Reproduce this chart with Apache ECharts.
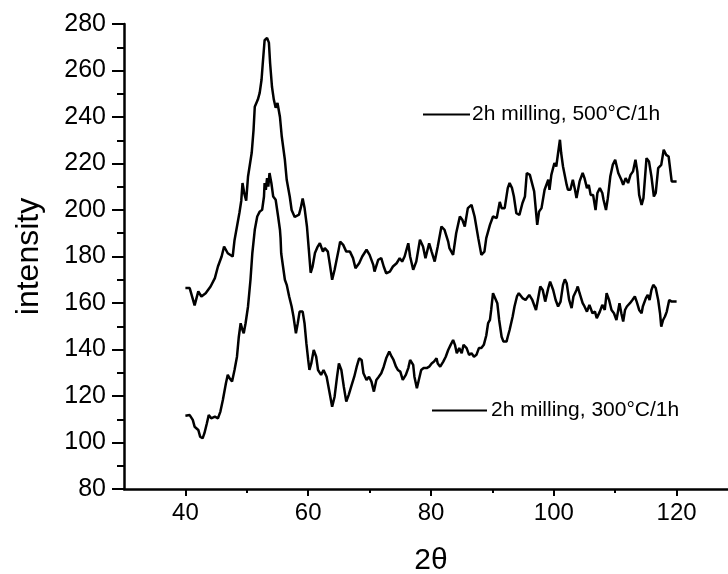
<!DOCTYPE html>
<html>
<head>
<meta charset="utf-8">
<script src="https://cdn.jsdelivr.net/npm/echarts@6/dist/echarts.min.js"></script>
<style>html,body{margin:0;padding:0;background:#fff}#c{width:728px;height:574px}</style>
</head>
<body>
<div id="c"></div>
<script>
var seriesNames = ['2h milling, 500°C/1h', '2h milling, 300°C/1h'];
var xMajorTicks = [40, 60, 80, 100, 120];
var xMinorTicks = [50, 70, 90, 110, 130];

var x500 = [40,40.7,41.5,42.1,42.6,43.3,44.1,44.8,45.3,45.9,46.3,46.9,47.7,48.0,48.8,49.1,49.3,49.6,49.9,50.2,50.5,50.8,51.1,51.3,51.8,52.1,52.4,52.6,52.9,53.3,53.6,53.8,54.1,54.4,54.7,55.0,55.4,55.7,56.2,56.5,57.0,57.3,57.8,58.1,58.5,58.8,59.1,59.4,59.8,60.1,60.4,60.7,61.1,61.5,61.9,62.4,62.7,63.2,63.5,63.9,64.3,64.9,65.2,65.7,66.2,66.8,67.3,67.7,68.3,68.8,69.5,70.0,70.6,70.8,71.4,71.9,72.3,72.7,73.3,73.8,74.4,74.9,75.3,75.7,76.3,76.6,77.1,77.6,78.2,78.7,79.1,79.7,80.1,80.6,81.1,81.7,82.2,82.8,83.0,83.6,84.1,84.7,85.1,85.5,86.0,86.6,87.1,87.7,88.2,88.7,89.0,89.6,90.1,90.7,91.2,91.5,92.0,92.5,92.8,93.2,93.5,93.9,94.4,94.9,95.3,95.6,96.1,96.4,96.8,97.3,97.6,98.0,98.5,99.1,99.3,99.6,100.1,100.4,100.7,101.0,101.2,101.5,102.1,102.3,102.7,103.1,103.4,103.7,103.9,104.2,104.7,105.0,105.4,105.7,106.0,106.4,106.8,107.1,107.5,107.9,108.1,108.5,108.8,109.2,109.6,110.0,110.5,111.0,111.3,111.7,112.1,112.5,112.9,113.3,113.6,113.9,114.3,114.6,115.1,115.5,115.9,116.3,116.6,117.0,117.5,117.9,118.3,118.7,119.2,120];
var y500 = [166.4,166.4,159,165,162.8,164.2,167.1,170.7,175.7,180,184.3,181.4,180,187,198.8,204,211.6,207,204,214.4,214,224.6,234.5,244.4,247.5,250.4,256,263,273,274,272,263,253,247.5,244,246,240,231.5,221.6,213,205.7,200,197,197,198,201,205,201,192.8,183,173,175.5,181.5,184,185.7,182.1,183.6,182.1,177.1,170,174.3,182.1,186.4,185,182.1,182.1,179.3,175,177.1,180,182.9,180.7,176.4,173.5,178.6,179.3,175.7,172.8,173.5,175.7,177.1,179.3,177.8,180,185.7,180,174.3,177.8,187.2,184.3,179.3,185.7,182.1,177.8,184.3,192.9,191.5,186.4,183.6,180.7,190,197.2,195.8,192.9,200.8,202.2,197.2,187.9,180.7,182.1,187.9,193.6,197.2,196.5,203.5,200.8,200.8,209.4,211.6,209.4,205.8,198.6,197.9,203,205.8,215.9,215.1,214.4,208,193.6,199.3,200.8,208.7,213,208.7,215.1,220.2,218.7,224.5,230.2,224.5,218.7,210.8,208.7,208.7,213,209.4,205.1,205.8,212.3,215.9,213.7,209.4,210.8,206.5,206.5,200,207.3,209.4,207.3,204.4,200,205.1,214.4,219.4,221.6,215.9,213,210.8,213.7,211.6,215.1,216.6,221.6,216.6,206.5,202.2,205.1,222.3,220.9,214.4,205.8,207.3,218,219.4,225.9,223.7,223,212.3,212.3];

var x300 = [40,40.7,41.2,41.5,42.1,42.4,42.8,43.1,43.5,43.8,44.2,44.8,45.3,45.7,46.1,46.6,46.9,47.2,47.6,48.0,48.4,48.7,49.0,49.3,49.5,49.8,50.2,50.6,50.9,51.3,51.7,52.1,52.5,52.8,52.9,53.1,53.3,53.5,53.7,54.0,54.3,54.7,55.1,55.4,55.5,55.6,55.9,56.2,56.5,56.9,57.3,57.6,58.0,58.3,58.6,59.1,59.4,59.7,60.0,60.2,60.5,60.9,61.3,61.6,62.1,62.5,63.0,63.4,63.9,64.3,64.7,65.0,65.4,65.8,66.2,66.6,67.0,67.5,67.9,68.3,68.7,69.0,69.5,69.9,70.3,70.7,71.1,71.5,71.9,72.3,72.7,73.2,73.6,73.9,74.3,74.6,75.0,75.4,75.9,76.3,76.6,77.1,77.3,77.7,78.0,78.4,78.8,79.3,79.7,80.1,80.5,80.9,81.1,81.5,82.0,82.4,82.8,83.2,83.6,83.9,84.2,84.6,85.0,85.3,85.8,86.2,86.6,87.0,87.4,87.8,88.2,88.6,89.0,89.3,89.6,89.8,90.1,90.4,90.8,91.1,91.5,91.8,92.3,92.5,92.8,93.3,93.6,94.0,94.3,94.9,95.4,96.0,96.5,97.1,97.4,97.8,98.2,98.6,99.1,99.4,99.9,100.3,100.7,101.1,101.5,101.8,102.1,102.5,102.9,103.2,103.7,103.9,104.2,104.7,105.0,105.4,105.8,106.3,106.7,107.0,107.5,107.9,108.3,108.6,109.0,109.4,109.8,110.2,110.5,110.7,111.0,111.3,111.6,111.9,112.4,112.8,113.2,113.5,113.9,114.3,114.5,115.0,115.3,115.6,115.9,116.2,116.6,117.0,117.3,117.5,117.8,118.1,118.4,118.8,119.2,120];
var y300 = [111.5,111.8,109.7,106.8,105.4,102.5,101.8,104,108.3,111.8,110.4,111.1,110.4,113.3,118.3,125.5,129.1,127.6,126.2,131.2,136.9,145.5,151.3,148.4,147,151.3,158.5,170,181.4,191.5,197.2,199.3,200.1,205.8,211.6,208.7,213.7,210.1,215.9,211.6,205.8,204.4,197.2,191.5,187.9,181.4,175.7,170,167.8,162.8,158.5,154.2,147,151.3,156.3,156.3,151.3,142.7,135.5,131.2,134,139.8,136.9,131.2,129.1,131.2,128.3,122.6,115.4,119.7,128.3,134,131.2,124,117.6,120.5,124,128.3,132.6,136.2,135.5,129.8,126.9,128.3,126.2,121.9,126.9,128.3,129.8,132.6,136.2,139.1,136.9,135.5,132.6,131.2,130.5,126.9,129.1,132,135.5,133.4,128.3,123.3,123.3,131.2,132,132,132.6,134,134.8,136.2,134,132.6,134.8,136.9,139.8,142,144.1,142,138.4,140.6,138.4,142,140.6,137.7,138.4,136.9,137.7,140.6,140.6,142,146,151.3,152.7,157,164.2,164.9,159.9,152.7,145.5,143.4,143.4,145.5,148.4,154.2,158.5,162.8,164.2,162.1,161.3,163.5,161.3,157,161.3,167.1,165.6,160.6,166.4,169.2,165.6,161.3,158.5,160.6,167.8,170.2,168.5,161.3,157.8,162.8,165.6,167.1,164.2,159.9,158.5,156.3,159.2,155.6,156.3,153.5,156.3,159.2,157,164.2,161.3,157,155.6,152.7,157,159.9,155.6,152,157,158.5,159.9,161.3,162.8,160.6,157,155.6,158.5,162.1,163.5,161.3,165.6,167.8,166.4,161.3,155.6,149.8,152.7,154.2,156.3,161.3,160.6,160.6];

function zip(xs, ys) { return xs.map(function (x, i) { return [x, ys[i]]; }); }

var FONT = 'Liberation Sans, Arial, sans-serif';
var chart = echarts.init(document.getElementById('c'), null, {renderer: 'canvas'});
chart.setOption({
  animation: false,
  backgroundColor: '#fff',
  grid: {left: 124, top: 24, width: 614, height: 465, containLabel: false, outerBoundsMode: 'none'},
  xAxis: [{
    type: 'value', min: 30, max: 130, interval: 10,
    name: '2θ', nameLocation: 'middle', nameGap: 57,
    nameTextStyle: {fontFamily: FONT, fontSize: 30, color: '#000'},
    axisLine: {show: true, onZero: false, lineStyle: {color: '#000', width: 2.5}},
    axisTick: {show: true, inside: false, length: 7, lineStyle: {color: '#000', width: 2}, customValues: xMajorTicks},
    axisLabel: {show: true, margin: 12, fontFamily: FONT, fontSize: 24, color: '#000', customValues: xMajorTicks},
    splitLine: {show: false}
  }, {
    type: 'value', min: 30, max: 130, interval: 10, position: 'bottom',
    axisLine: {show: false},
    axisTick: {show: true, inside: false, length: 4, lineStyle: {color: '#000', width: 2}, customValues: xMinorTicks},
    axisLabel: {show: false},
    splitLine: {show: false}
  }],
  yAxis: {
    type: 'value', min: 80, max: 280, interval: 20,
    name: 'intensity', nameLocation: 'middle', nameGap: 79, nameRotate: 90,
    nameTextStyle: {fontFamily: FONT, fontSize: 32, color: '#000'},
    axisLine: {show: true, onZero: false, lineStyle: {color: '#000', width: 2.5}},
    axisTick: {show: true, inside: false, length: 12, lineStyle: {color: '#000', width: 2}},
    minorTick: {show: true, splitNumber: 2, length: 7, lineStyle: {color: '#000', width: 2}},
    axisLabel: {margin: 18, fontFamily: FONT, fontSize: 25, color: '#000'},
    splitLine: {show: false}
  },
  legend: [{
    data: [seriesNames[0]], left: 423, top: 104, padding: 0,
    icon: 'rect', itemWidth: 47, itemHeight: 2, itemGap: 0,
    textStyle: {fontFamily: FONT, fontSize: 21, color: '#000', padding: [0, 0, 0, -3]}
  }, {
    data: [seriesNames[1]], left: 432, top: 400, padding: 0,
    icon: 'rect', itemWidth: 55, itemHeight: 2, itemGap: 0,
    textStyle: {fontFamily: FONT, fontSize: 21, color: '#000', padding: [0, 0, 0, -1]}
  }],
  series: [{
    name: seriesNames[0], type: 'line', xAxisIndex: 0, data: zip(x500, y500),
    showSymbol: false, symbol: 'none', smooth: false,
    lineStyle: {color: '#000', width: 2.5}, itemStyle: {color: '#000'}
  }, {
    name: seriesNames[1], type: 'line', xAxisIndex: 0, data: zip(x300, y300),
    showSymbol: false, symbol: 'none', smooth: false,
    lineStyle: {color: '#000', width: 2.5}, itemStyle: {color: '#000'}
  }]
});
</script>
</body>
</html>
